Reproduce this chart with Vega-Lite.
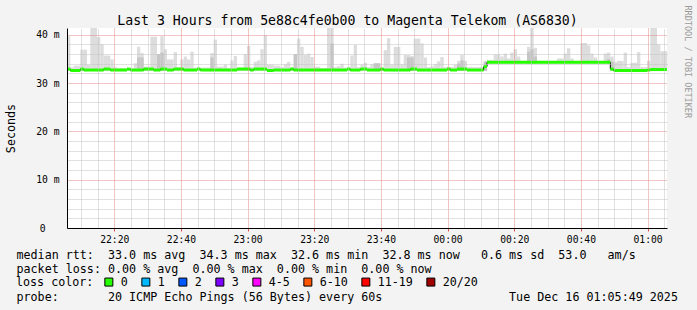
{
  "$schema": "https://vega.github.io/schema/vega-lite/v6.json",
  "width": 600,
  "height": 200,
  "autosize": {"type": "none"},
  "padding": {"left": 67, "top": 28, "right": 30, "bottom": 82},
  "background": "#f3f3f3",
  "config": {
    "font": "DejaVu Sans Mono",
    "view": {"stroke": null, "fill": "#ffffff"},
    "axis": {"labelFont": "DejaVu Sans Mono", "titleFont": "DejaVu Sans Mono", "titleFontWeight": "normal", "titleColor": "#000000", "labelColor": "#000000"}
  },
  "datasets": {
    "smoke": [
      {"s":"2025-12-15T22:05:49","e":"2025-12-15T22:06:49","lo":32.5,"hi":39.7},
      {"s":"2025-12-15T22:06:49","e":"2025-12-15T22:07:49","lo":32.5,"hi":33.3},
      {"s":"2025-12-15T22:07:49","e":"2025-12-15T22:09:49","lo":32.5,"hi":33.6},
      {"s":"2025-12-15T22:09:49","e":"2025-12-15T22:11:49","lo":32.5,"hi":36.9},
      {"s":"2025-12-15T22:11:49","e":"2025-12-15T22:12:49","lo":32.5,"hi":33.8},
      {"s":"2025-12-15T22:12:49","e":"2025-12-15T22:14:49","lo":32.5,"hi":41.4},
      {"s":"2025-12-15T22:14:49","e":"2025-12-15T22:15:49","lo":32.5,"hi":39.5},
      {"s":"2025-12-15T22:15:49","e":"2025-12-15T22:16:49","lo":32.5,"hi":38.0},
      {"s":"2025-12-15T22:16:49","e":"2025-12-15T22:18:49","lo":32.5,"hi":35.7},
      {"s":"2025-12-15T22:18:49","e":"2025-12-15T22:19:49","lo":32.5,"hi":34.9},
      {"s":"2025-12-15T22:19:49","e":"2025-12-15T22:20:49","lo":32.5,"hi":33.3},
      {"s":"2025-12-15T22:20:49","e":"2025-12-15T22:25:49","lo":32.5,"hi":33.1},
      {"s":"2025-12-15T22:25:49","e":"2025-12-15T22:26:49","lo":32.5,"hi":34.1},
      {"s":"2025-12-15T22:26:49","e":"2025-12-15T22:27:49","lo":32.5,"hi":37.5,"dk":35.3},
      {"s":"2025-12-15T22:27:49","e":"2025-12-15T22:28:49","lo":32.5,"hi":36.2,"dk":35.3},
      {"s":"2025-12-15T22:28:49","e":"2025-12-15T22:30:49","lo":32.5,"hi":33.4},
      {"s":"2025-12-15T22:30:49","e":"2025-12-15T22:32:49","lo":32.5,"hi":39.6},
      {"s":"2025-12-15T22:32:49","e":"2025-12-15T22:33:49","lo":32.5,"hi":36.0,"dk":36.0},
      {"s":"2025-12-15T22:33:49","e":"2025-12-15T22:34:49","lo":32.5,"hi":39.7,"dk":36.3},
      {"s":"2025-12-15T22:34:49","e":"2025-12-15T22:35:49","lo":32.5,"hi":37.0},
      {"s":"2025-12-15T22:35:49","e":"2025-12-15T22:37:49","lo":32.5,"hi":34.9},
      {"s":"2025-12-15T22:37:49","e":"2025-12-15T22:38:49","lo":32.5,"hi":36.4},
      {"s":"2025-12-15T22:38:49","e":"2025-12-15T22:39:49","lo":32.5,"hi":33.3},
      {"s":"2025-12-15T22:39:49","e":"2025-12-15T22:40:49","lo":32.5,"hi":34.9},
      {"s":"2025-12-15T22:40:49","e":"2025-12-15T22:41:49","lo":32.5,"hi":35.5},
      {"s":"2025-12-15T22:41:49","e":"2025-12-15T22:42:49","lo":32.5,"hi":34.9},
      {"s":"2025-12-15T22:42:49","e":"2025-12-15T22:43:49","lo":32.5,"hi":36.5},
      {"s":"2025-12-15T22:43:49","e":"2025-12-15T22:48:49","lo":32.5,"hi":33.2},
      {"s":"2025-12-15T22:48:49","e":"2025-12-15T22:49:49","lo":32.5,"hi":36.2,"dk":35.3},
      {"s":"2025-12-15T22:49:49","e":"2025-12-15T22:50:49","lo":32.5,"hi":39.0},
      {"s":"2025-12-15T22:50:49","e":"2025-12-15T22:52:49","lo":32.5,"hi":33.4},
      {"s":"2025-12-15T22:52:49","e":"2025-12-15T22:53:49","lo":32.5,"hi":33.8},
      {"s":"2025-12-15T22:53:49","e":"2025-12-15T22:54:49","lo":32.5,"hi":33.1},
      {"s":"2025-12-15T22:54:49","e":"2025-12-15T22:55:49","lo":32.5,"hi":34.7},
      {"s":"2025-12-15T22:55:49","e":"2025-12-15T22:56:49","lo":32.5,"hi":35.6},
      {"s":"2025-12-15T22:56:49","e":"2025-12-15T22:58:49","lo":32.5,"hi":33.2},
      {"s":"2025-12-15T22:58:49","e":"2025-12-15T22:59:49","lo":32.5,"hi":36.0},
      {"s":"2025-12-15T22:59:49","e":"2025-12-15T23:00:49","lo":32.5,"hi":37.7},
      {"s":"2025-12-15T23:00:49","e":"2025-12-15T23:01:49","lo":32.5,"hi":33.3},
      {"s":"2025-12-15T23:01:49","e":"2025-12-15T23:02:49","lo":32.5,"hi":34.4},
      {"s":"2025-12-15T23:02:49","e":"2025-12-15T23:03:49","lo":32.5,"hi":34.7},
      {"s":"2025-12-15T23:03:49","e":"2025-12-15T23:04:49","lo":32.5,"hi":37.0},
      {"s":"2025-12-15T23:04:49","e":"2025-12-15T23:05:49","lo":32.5,"hi":39.9},
      {"s":"2025-12-15T23:05:49","e":"2025-12-15T23:07:49","lo":32.5,"hi":33.8},
      {"s":"2025-12-15T23:07:49","e":"2025-12-15T23:09:49","lo":32.5,"hi":33.6},
      {"s":"2025-12-15T23:09:49","e":"2025-12-15T23:10:49","lo":32.5,"hi":33.3},
      {"s":"2025-12-15T23:10:49","e":"2025-12-15T23:11:49","lo":32.5,"hi":33.9},
      {"s":"2025-12-15T23:11:49","e":"2025-12-15T23:12:49","lo":32.5,"hi":34.4},
      {"s":"2025-12-15T23:12:49","e":"2025-12-15T23:13:49","lo":32.5,"hi":33.3},
      {"s":"2025-12-15T23:13:49","e":"2025-12-15T23:14:49","lo":32.5,"hi":36.0,"dk":36.0},
      {"s":"2025-12-15T23:14:49","e":"2025-12-15T23:15:49","lo":32.5,"hi":39.2},
      {"s":"2025-12-15T23:15:49","e":"2025-12-15T23:16:49","lo":32.5,"hi":37.5},
      {"s":"2025-12-15T23:16:49","e":"2025-12-15T23:17:49","lo":32.5,"hi":35.8},
      {"s":"2025-12-15T23:17:49","e":"2025-12-15T23:18:49","lo":32.5,"hi":36.1},
      {"s":"2025-12-15T23:18:49","e":"2025-12-15T23:19:49","lo":32.5,"hi":35.4},
      {"s":"2025-12-15T23:19:49","e":"2025-12-15T23:21:49","lo":32.5,"hi":33.4},
      {"s":"2025-12-15T23:21:49","e":"2025-12-15T23:23:49","lo":32.5,"hi":33.1},
      {"s":"2025-12-15T23:23:49","e":"2025-12-15T23:24:49","lo":32.5,"hi":41.4},
      {"s":"2025-12-15T23:24:49","e":"2025-12-15T23:25:49","lo":32.5,"hi":41.4,"dk":38.2},
      {"s":"2025-12-15T23:25:49","e":"2025-12-15T23:26:49","lo":32.5,"hi":33.3},
      {"s":"2025-12-15T23:26:49","e":"2025-12-15T23:27:49","lo":32.5,"hi":33.5},
      {"s":"2025-12-15T23:27:49","e":"2025-12-15T23:28:49","lo":32.5,"hi":34.0},
      {"s":"2025-12-15T23:28:49","e":"2025-12-15T23:30:49","lo":32.5,"hi":33.2},
      {"s":"2025-12-15T23:30:49","e":"2025-12-15T23:31:49","lo":32.5,"hi":35.7},
      {"s":"2025-12-15T23:31:49","e":"2025-12-15T23:32:49","lo":32.5,"hi":37.9},
      {"s":"2025-12-15T23:32:49","e":"2025-12-15T23:33:49","lo":32.5,"hi":33.3},
      {"s":"2025-12-15T23:33:49","e":"2025-12-15T23:34:49","lo":32.5,"hi":33.8},
      {"s":"2025-12-15T23:34:49","e":"2025-12-15T23:35:49","lo":32.5,"hi":34.2},
      {"s":"2025-12-15T23:35:49","e":"2025-12-15T23:36:49","lo":32.5,"hi":33.3},
      {"s":"2025-12-15T23:36:49","e":"2025-12-15T23:37:49","lo":32.5,"hi":33.9},
      {"s":"2025-12-15T23:37:49","e":"2025-12-15T23:39:49","lo":32.5,"hi":34.1,"dk":34.1},
      {"s":"2025-12-15T23:39:49","e":"2025-12-15T23:40:49","lo":32.5,"hi":33.0},
      {"s":"2025-12-15T23:40:49","e":"2025-12-15T23:41:49","lo":32.5,"hi":36.8},
      {"s":"2025-12-15T23:41:49","e":"2025-12-15T23:42:49","lo":32.5,"hi":39.3},
      {"s":"2025-12-15T23:42:49","e":"2025-12-15T23:43:49","lo":32.5,"hi":33.8},
      {"s":"2025-12-15T23:43:49","e":"2025-12-15T23:45:49","lo":32.5,"hi":37.5},
      {"s":"2025-12-15T23:45:49","e":"2025-12-15T23:46:49","lo":32.5,"hi":33.9},
      {"s":"2025-12-15T23:46:49","e":"2025-12-15T23:47:49","lo":32.5,"hi":35.8},
      {"s":"2025-12-15T23:47:49","e":"2025-12-15T23:48:49","lo":32.5,"hi":35.8,"dk":35.3},
      {"s":"2025-12-15T23:48:49","e":"2025-12-15T23:49:49","lo":32.5,"hi":35.6,"dk":35.3},
      {"s":"2025-12-15T23:49:49","e":"2025-12-15T23:51:49","lo":32.5,"hi":39.2},
      {"s":"2025-12-15T23:51:49","e":"2025-12-15T23:52:49","lo":32.5,"hi":38.2},
      {"s":"2025-12-15T23:52:49","e":"2025-12-15T23:53:49","lo":32.5,"hi":35.3},
      {"s":"2025-12-15T23:53:49","e":"2025-12-15T23:54:49","lo":32.5,"hi":33.3},
      {"s":"2025-12-15T23:54:49","e":"2025-12-15T23:55:49","lo":32.5,"hi":33.5},
      {"s":"2025-12-15T23:55:49","e":"2025-12-15T23:56:49","lo":32.5,"hi":33.9},
      {"s":"2025-12-15T23:56:49","e":"2025-12-15T23:57:49","lo":32.5,"hi":34.5},
      {"s":"2025-12-15T23:57:49","e":"2025-12-15T23:58:49","lo":32.5,"hi":35.4},
      {"s":"2025-12-15T23:58:49","e":"2025-12-16T00:01:49","lo":32.5,"hi":33.3},
      {"s":"2025-12-16T00:01:49","e":"2025-12-16T00:02:49","lo":32.5,"hi":33.8},
      {"s":"2025-12-16T00:02:49","e":"2025-12-16T00:03:49","lo":32.5,"hi":34.6,"dk":34.0},
      {"s":"2025-12-16T00:03:49","e":"2025-12-16T00:04:49","lo":32.5,"hi":35.8,"dk":34.7},
      {"s":"2025-12-16T00:04:49","e":"2025-12-16T00:05:49","lo":32.5,"hi":34.6},
      {"s":"2025-12-16T00:05:49","e":"2025-12-16T00:10:49","lo":32.5,"hi":33.3},
      {"s":"2025-12-16T00:10:49","e":"2025-12-16T00:11:49","lo":32.5,"hi":34.6,"dk":34.4},
      {"s":"2025-12-16T00:11:49","e":"2025-12-16T00:13:49","lo":34.0,"hi":34.8},
      {"s":"2025-12-16T00:13:49","e":"2025-12-16T00:15:49","lo":34.0,"hi":35.9},
      {"s":"2025-12-16T00:15:49","e":"2025-12-16T00:16:49","lo":34.0,"hi":35.5},
      {"s":"2025-12-16T00:16:49","e":"2025-12-16T00:17:49","lo":34.0,"hi":36.1},
      {"s":"2025-12-16T00:17:49","e":"2025-12-16T00:18:49","lo":34.0,"hi":35.1},
      {"s":"2025-12-16T00:18:49","e":"2025-12-16T00:19:49","lo":34.0,"hi":36.3},
      {"s":"2025-12-16T00:19:49","e":"2025-12-16T00:20:49","lo":34.0,"hi":37.0},
      {"s":"2025-12-16T00:20:49","e":"2025-12-16T00:21:49","lo":34.0,"hi":35.5},
      {"s":"2025-12-16T00:21:49","e":"2025-12-16T00:23:49","lo":34.0,"hi":34.6},
      {"s":"2025-12-16T00:23:49","e":"2025-12-16T00:24:49","lo":34.0,"hi":37.5,"dk":36.5},
      {"s":"2025-12-16T00:24:49","e":"2025-12-16T00:25:49","lo":34.0,"hi":41.4,"dk":37.0},
      {"s":"2025-12-16T00:25:49","e":"2025-12-16T00:26:49","lo":34.0,"hi":37.3,"dk":35.5},
      {"s":"2025-12-16T00:26:49","e":"2025-12-16T00:32:49","lo":34.0,"hi":34.6},
      {"s":"2025-12-16T00:32:49","e":"2025-12-16T00:34:49","lo":34.0,"hi":35.1},
      {"s":"2025-12-16T00:34:49","e":"2025-12-16T00:35:49","lo":34.0,"hi":36.1},
      {"s":"2025-12-16T00:35:49","e":"2025-12-16T00:36:49","lo":34.0,"hi":37.2},
      {"s":"2025-12-16T00:36:49","e":"2025-12-16T00:37:49","lo":34.0,"hi":35.1},
      {"s":"2025-12-16T00:37:49","e":"2025-12-16T00:39:49","lo":34.0,"hi":34.6},
      {"s":"2025-12-16T00:39:49","e":"2025-12-16T00:41:49","lo":34.0,"hi":38.3},
      {"s":"2025-12-16T00:41:49","e":"2025-12-16T00:42:49","lo":34.0,"hi":37.8},
      {"s":"2025-12-16T00:42:49","e":"2025-12-16T00:43:49","lo":34.0,"hi":36.1},
      {"s":"2025-12-16T00:43:49","e":"2025-12-16T00:44:49","lo":34.0,"hi":35.3},
      {"s":"2025-12-16T00:44:49","e":"2025-12-16T00:46:49","lo":34.0,"hi":34.6},
      {"s":"2025-12-16T00:46:49","e":"2025-12-16T00:47:49","lo":34.0,"hi":36.1},
      {"s":"2025-12-16T00:47:49","e":"2025-12-16T00:48:49","lo":34.0,"hi":36.3,"dk":35.0},
      {"s":"2025-12-16T00:48:49","e":"2025-12-16T00:49:49","lo":32.5,"hi":35.5,"dk":34.5},
      {"s":"2025-12-16T00:49:49","e":"2025-12-16T00:50:49","lo":32.5,"hi":34.3},
      {"s":"2025-12-16T00:50:49","e":"2025-12-16T00:52:49","lo":32.5,"hi":34.6},
      {"s":"2025-12-16T00:52:49","e":"2025-12-16T00:53:49","lo":32.5,"hi":36.3},
      {"s":"2025-12-16T00:53:49","e":"2025-12-16T00:54:49","lo":32.5,"hi":33.3},
      {"s":"2025-12-16T00:54:49","e":"2025-12-16T00:56:49","lo":32.5,"hi":34.2},
      {"s":"2025-12-16T00:56:49","e":"2025-12-16T00:57:49","lo":32.5,"hi":36.4},
      {"s":"2025-12-16T00:57:49","e":"2025-12-16T00:59:49","lo":32.5,"hi":33.3},
      {"s":"2025-12-16T00:59:49","e":"2025-12-16T01:00:49","lo":32.5,"hi":34.6},
      {"s":"2025-12-16T01:00:49","e":"2025-12-16T01:02:49","lo":32.5,"hi":41.4},
      {"s":"2025-12-16T01:02:49","e":"2025-12-16T01:03:49","lo":32.5,"hi":38.0},
      {"s":"2025-12-16T01:03:49","e":"2025-12-16T01:05:49","lo":32.5,"hi":36.6}
    ],
    "med": [
      {"s":"2025-12-15T22:05:49","e":"2025-12-15T22:06:49","m":32.9,"loss":"0"},
      {"s":"2025-12-15T22:06:49","e":"2025-12-15T22:09:49","m":32.6,"loss":"0"},
      {"s":"2025-12-15T22:09:49","e":"2025-12-15T22:10:49","m":32.9,"loss":"0"},
      {"s":"2025-12-15T22:10:49","e":"2025-12-15T22:16:49","m":32.7,"loss":"0"},
      {"s":"2025-12-15T22:16:49","e":"2025-12-15T22:18:49","m":32.9,"loss":"0"},
      {"s":"2025-12-15T22:18:49","e":"2025-12-15T22:23:49","m":32.7,"loss":"0"},
      {"s":"2025-12-15T22:23:49","e":"2025-12-15T22:24:49","m":32.9,"loss":"0"},
      {"s":"2025-12-15T22:24:49","e":"2025-12-15T22:28:49","m":32.7,"loss":"0"},
      {"s":"2025-12-15T22:28:49","e":"2025-12-15T22:31:49","m":32.9,"loss":"0"},
      {"s":"2025-12-15T22:31:49","e":"2025-12-15T22:33:49","m":32.7,"loss":"0"},
      {"s":"2025-12-15T22:33:49","e":"2025-12-15T22:35:49","m":32.9,"loss":"0"},
      {"s":"2025-12-15T22:35:49","e":"2025-12-15T22:37:49","m":32.7,"loss":"0"},
      {"s":"2025-12-15T22:37:49","e":"2025-12-15T22:40:49","m":32.9,"loss":"0"},
      {"s":"2025-12-15T22:40:49","e":"2025-12-15T22:44:49","m":32.7,"loss":"0"},
      {"s":"2025-12-15T22:44:49","e":"2025-12-15T22:45:49","m":32.9,"loss":"0"},
      {"s":"2025-12-15T22:45:49","e":"2025-12-15T22:56:49","m":32.7,"loss":"0"},
      {"s":"2025-12-15T22:56:49","e":"2025-12-15T23:00:49","m":32.9,"loss":"0"},
      {"s":"2025-12-15T23:00:49","e":"2025-12-15T23:01:49","m":32.7,"loss":"0"},
      {"s":"2025-12-15T23:01:49","e":"2025-12-15T23:05:49","m":32.9,"loss":"0"},
      {"s":"2025-12-15T23:05:49","e":"2025-12-15T23:07:49","m":32.6,"loss":"0"},
      {"s":"2025-12-15T23:07:49","e":"2025-12-15T23:12:49","m":32.7,"loss":"0"},
      {"s":"2025-12-15T23:12:49","e":"2025-12-15T23:13:49","m":32.9,"loss":"0"},
      {"s":"2025-12-15T23:13:49","e":"2025-12-15T23:29:49","m":32.7,"loss":"0"},
      {"s":"2025-12-15T23:29:49","e":"2025-12-15T23:30:49","m":32.9,"loss":"0"},
      {"s":"2025-12-15T23:30:49","e":"2025-12-15T23:33:49","m":32.7,"loss":"0"},
      {"s":"2025-12-15T23:33:49","e":"2025-12-15T23:35:49","m":32.9,"loss":"0"},
      {"s":"2025-12-15T23:35:49","e":"2025-12-15T23:39:49","m":32.7,"loss":"0"},
      {"s":"2025-12-15T23:39:49","e":"2025-12-15T23:40:49","m":32.9,"loss":"0"},
      {"s":"2025-12-15T23:40:49","e":"2025-12-15T23:48:49","m":32.7,"loss":"0"},
      {"s":"2025-12-15T23:48:49","e":"2025-12-15T23:50:49","m":32.9,"loss":"0"},
      {"s":"2025-12-15T23:50:49","e":"2025-12-15T23:59:49","m":32.7,"loss":"0"},
      {"s":"2025-12-15T23:59:49","e":"2025-12-16T00:00:49","m":32.9,"loss":"0"},
      {"s":"2025-12-16T00:00:49","e":"2025-12-16T00:02:49","m":32.7,"loss":"0"},
      {"s":"2025-12-16T00:02:49","e":"2025-12-16T00:05:49","m":32.9,"loss":"0"},
      {"s":"2025-12-16T00:05:49","e":"2025-12-16T00:10:49","m":32.7,"loss":"0"},
      {"s":"2025-12-16T00:10:49","e":"2025-12-16T00:11:49","m":33.4,"loss":"0"},
      {"s":"2025-12-16T00:11:49","e":"2025-12-16T00:48:49","m":34.3,"loss":"0"},
      {"s":"2025-12-16T00:48:49","e":"2025-12-16T00:49:49","m":32.9,"loss":"0"},
      {"s":"2025-12-16T00:49:49","e":"2025-12-16T00:59:49","m":32.6,"loss":"0"},
      {"s":"2025-12-16T00:59:49","e":"2025-12-16T01:00:49","m":32.7,"loss":"0"},
      {"s":"2025-12-16T01:00:49","e":"2025-12-16T01:05:49","m":32.8,"loss":"0"}
    ]
  },
  "resolve": {"axis": {"x": "independent", "y": "independent"}},
  "layer": [
    {
      "data": {"name": "smoke"},
      "mark": {"type": "rect", "color": "#dddddd"},
      "encoding": {
        "x": {
          "field": "s", "type": "temporal",
          "scale": {"nice": false},
          "axis": {
            "orient": "bottom", "format": "%H:%M",
            "values": [
              {"year": 2025, "month": 12, "date": 15, "hours": 22, "minutes": 20},
              {"year": 2025, "month": 12, "date": 15, "hours": 22, "minutes": 40},
              {"year": 2025, "month": 12, "date": 15, "hours": 23, "minutes": 0},
              {"year": 2025, "month": 12, "date": 15, "hours": 23, "minutes": 20},
              {"year": 2025, "month": 12, "date": 15, "hours": 23, "minutes": 40},
              {"year": 2025, "month": 12, "date": 16, "hours": 0, "minutes": 0},
              {"year": 2025, "month": 12, "date": 16, "hours": 0, "minutes": 20},
              {"year": 2025, "month": 12, "date": 16, "hours": 0, "minutes": 40},
              {"year": 2025, "month": 12, "date": 16, "hours": 1, "minutes": 0}
            ],
            "grid": true, "gridColor": "#e58a8a", "gridDash": [1, 1],
            "domainColor": "#000000",
            "tickColor": "#de5050", "tickSize": 3,
            "labelFontSize": 9.7, "labelPadding": 3, "labelFlush": false,
            "title": [
              "median\u00a0rtt:\u00a0\u00a033.0\u00a0ms\u00a0avg\u00a0\u00a034.3\u00a0ms\u00a0max\u00a0\u00a032.6\u00a0ms\u00a0min\u00a0\u00a032.8\u00a0ms\u00a0now\u00a0\u00a0\u00a00.6\u00a0ms\u00a0sd\u00a0\u00a053.0\u00a0\u00a0\u00a0am/s",
              "packet\u00a0loss:\u00a00.00\u00a0%\u00a0avg\u00a0\u00a00.00\u00a0%\u00a0max\u00a0\u00a00.00\u00a0%\u00a0min\u00a0\u00a00.00\u00a0%\u00a0now",
              "\u200b",
              "probe:\u00a0\u00a0\u00a0\u00a0\u00a0\u00a0\u00a020\u00a0ICMP\u00a0Echo\u00a0Pings\u00a0(56\u00a0Bytes)\u00a0every\u00a060s\u00a0\u00a0\u00a0\u00a0\u00a0\u00a0\u00a0\u00a0\u00a0\u00a0\u00a0\u00a0\u00a0\u00a0\u00a0\u00a0\u00a0\u00a0Tue\u00a0Dec\u00a016\u00a001:05:49\u00a02025"
            ],
            "titleX": -51, "titleY": 30.3, "titleAlign": "left", "titleBaseline": "alphabetic",
            "titleLineHeight": 14, "titleFontSize": 11.7, "titleLimit": 2000,
            "zindex": 1
          }
        },
        "x2": {"field": "e"},
        "y": {
          "field": "hi", "type": "quantitative",
          "scale": {"domain": [0, 41.4], "nice": false},
          "axis": {
            "orient": "left", "values": [0, 10, 20, 30, 40],
            "labelExpr": "datum.value == 0 ? '0\u2800\u2800' : datum.value + '\u00a0m'",
            "grid": true, "gridColor": "#e58a8a", "gridDash": [1, 1],
            "ticks": false, "domainColor": "#000000",
            "labelFontSize": 9.7, "labelPadding": 8,
            "title": "Seconds", "titleX": -56.5, "titleY": 100,
            "titleAlign": "center", "titleBaseline": "middle", "titleFontSize": 11.7,
            "zindex": 1
          }
        },
        "y2": {"field": "lo"}
      }
    },
    {
      "data": {"name": "smoke"},
      "transform": [{"filter": "isValid(datum.dk)"}],
      "mark": {"type": "rect", "color": "#c6c6c6"},
      "encoding": {
        "x": {
          "field": "s", "type": "temporal",
          "axis": {
            "orient": "top", "grid": true, "labels": false, "ticks": false, "domain": false,
            "values": [
              {"year": 2025, "month": 12, "date": 15, "hours": 22, "minutes": 10},
              {"year": 2025, "month": 12, "date": 15, "hours": 22, "minutes": 15},
              {"year": 2025, "month": 12, "date": 15, "hours": 22, "minutes": 25},
              {"year": 2025, "month": 12, "date": 15, "hours": 22, "minutes": 30},
              {"year": 2025, "month": 12, "date": 15, "hours": 22, "minutes": 35},
              {"year": 2025, "month": 12, "date": 15, "hours": 22, "minutes": 45},
              {"year": 2025, "month": 12, "date": 15, "hours": 22, "minutes": 50},
              {"year": 2025, "month": 12, "date": 15, "hours": 22, "minutes": 55},
              {"year": 2025, "month": 12, "date": 15, "hours": 23, "minutes": 5},
              {"year": 2025, "month": 12, "date": 15, "hours": 23, "minutes": 10},
              {"year": 2025, "month": 12, "date": 15, "hours": 23, "minutes": 15},
              {"year": 2025, "month": 12, "date": 15, "hours": 23, "minutes": 25},
              {"year": 2025, "month": 12, "date": 15, "hours": 23, "minutes": 30},
              {"year": 2025, "month": 12, "date": 15, "hours": 23, "minutes": 35},
              {"year": 2025, "month": 12, "date": 15, "hours": 23, "minutes": 45},
              {"year": 2025, "month": 12, "date": 15, "hours": 23, "minutes": 50},
              {"year": 2025, "month": 12, "date": 15, "hours": 23, "minutes": 55},
              {"year": 2025, "month": 12, "date": 16, "hours": 0, "minutes": 5},
              {"year": 2025, "month": 12, "date": 16, "hours": 0, "minutes": 10},
              {"year": 2025, "month": 12, "date": 16, "hours": 0, "minutes": 15},
              {"year": 2025, "month": 12, "date": 16, "hours": 0, "minutes": 25},
              {"year": 2025, "month": 12, "date": 16, "hours": 0, "minutes": 30},
              {"year": 2025, "month": 12, "date": 16, "hours": 0, "minutes": 35},
              {"year": 2025, "month": 12, "date": 16, "hours": 0, "minutes": 45},
              {"year": 2025, "month": 12, "date": 16, "hours": 0, "minutes": 50},
              {"year": 2025, "month": 12, "date": 16, "hours": 0, "minutes": 55},
              {"year": 2025, "month": 12, "date": 16, "hours": 1, "minutes": 5}
            ],
            "gridColor": "#c2c2c2", "gridDash": [1, 1],
            "title": "Last 3 Hours from 5e88c4fe0b00 to Magenta Telekom (AS6830)",
            "titleX": 280, "titleY": -4, "titleAlign": "center", "titleBaseline": "alphabetic",
            "titleFontSize": 13.2, "titleLimit": 2000,
            "zindex": 1
          }
        },
        "x2": {"field": "e"},
        "y": {
          "field": "dk", "type": "quantitative",
          "axis": {
            "orient": "right", "grid": true, "labels": false, "ticks": false, "domain": false,
            "values": [2, 4, 6, 8, 12, 14, 16, 18, 22, 24, 26, 28, 32, 34, 36, 38],
            "gridColor": "#c2c2c2", "gridDash": [1, 1],
            "title": "RRDTOOL / TOBI OETIKER", "titleAngle": 90, "titleX": 20.5, "titleY": -23,
            "titleAlign": "left", "titleBaseline": "middle", "titleFontSize": 8.5, "titleColor": "#9a9a9a",
            "titleLimit": 2000, "zindex": 1
          }
        },
        "y2": {"field": "lo"}
      }
    },
    {
      "data": {"name": "med"},
      "mark": {"type": "line", "interpolate": "step-after", "color": "#000000", "strokeWidth": 1},
      "encoding": {
        "x": {"field": "s", "type": "temporal", "axis": null},
        "y": {"field": "m", "type": "quantitative", "axis": null}
      }
    },
    {
      "data": {"name": "med"},
      "mark": {"type": "rect", "yOffset": -1.5, "y2Offset": 1.5},
      "encoding": {
        "x": {"field": "s", "type": "temporal", "axis": null},
        "x2": {"field": "e"},
        "y": {"field": "m", "type": "quantitative", "axis": null},
        "y2": {"field": "m"},
        "color": {
          "field": "loss", "type": "nominal",
          "scale": {
            "domain": ["0", "1", "2", "3", "4-5", "6-10", "11-19", "20/20"],
            "range": ["#26ff00", "#00b8ff", "#0059ff", "#7e00ff", "#ff00ff", "#ff5500", "#ff0000", "#a10000"]
          },
          "legend": {
            "title": "loss color:",
            "orient": "none", "legendX": -51, "legendY": 248, "direction": "horizontal",
            "titleOrient": "left",
            "titlePadding": 9, "titleFont": "DejaVu Sans Mono", "titleFontSize": 11.7, "titleFontWeight": "normal", "titleColor": "#000000",
            "labelFont": "DejaVu Sans Mono", "labelFontSize": 11.7, "labelColor": "#000000", "labelOffset": 6,
            "columnPadding": 11, "symbolType": "square", "symbolSize": 64, "symbolStrokeColor": "#000000",
            "symbolStrokeWidth": 1, "symbolOpacity": 1, "padding": 0
          }
        }
      }
    }
  ]
}
